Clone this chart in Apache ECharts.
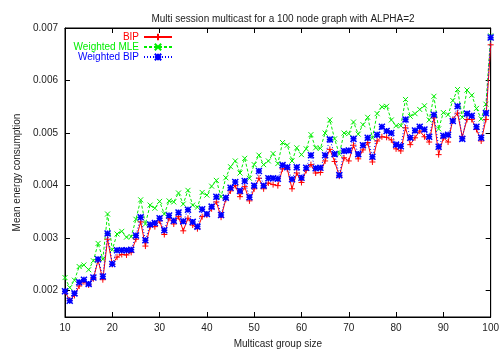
<!DOCTYPE html>
<html>
<head>
<meta charset="utf-8">
<script src="https://cdn.jsdelivr.net/npm/echarts@6/dist/echarts.min.js"></script>
<style>
  html, body { margin: 0; padding: 0; background: #fff; }
  #chart { width: 502px; height: 354px; }
</style>
</head>
<body>
<div id="chart"></div>
<script>
const groupSizes = [
  10, 11, 12, 13, 14, 15, 16, 17, 18, 19,
  20, 21, 22, 23, 24, 25, 26, 27, 28, 29,
  30, 31, 32, 33, 34, 35, 36, 37, 38, 39,
  40, 41, 42, 43, 44, 45, 46, 47, 48, 49,
  50, 51, 52, 53, 54, 55, 56, 57, 58, 59,
  60, 61, 62, 63, 64, 65, 66, 67, 68, 69,
  70, 71, 72, 73, 74, 75, 76, 77, 78, 79,
  80, 81, 82, 83, 84, 85, 86, 87, 88, 89,
  90, 91, 92, 93, 94, 95, 96, 97, 98, 99,
  100
]

const bip = [
  0.00198, 0.00182, 0.00191, 0.00209, 0.00217, 0.00211, 0.00223, 0.00258, 0.00221, 0.00298,
  0.00250, 0.00264, 0.00269, 0.00268, 0.00273, 0.00298, 0.00331, 0.00285, 0.00322, 0.00322,
  0.00333, 0.00307, 0.00338, 0.00327, 0.00341, 0.00314, 0.00338, 0.00325, 0.00318, 0.00341,
  0.00344, 0.00356, 0.00369, 0.00340, 0.00374, 0.00390, 0.00400, 0.00379, 0.00398, 0.00371,
  0.00394, 0.00414, 0.00394, 0.00405, 0.00402, 0.00400, 0.00432, 0.00432, 0.00394, 0.00424,
  0.00406, 0.00429, 0.00440, 0.00424, 0.00425, 0.00447, 0.00469, 0.00446, 0.00418, 0.00453,
  0.00447, 0.00477, 0.00451, 0.00468, 0.00482, 0.00445, 0.00485, 0.00493, 0.00492, 0.00487,
  0.00470, 0.00466, 0.00510, 0.00478, 0.00491, 0.00504, 0.00493, 0.00483, 0.00529, 0.00459,
  0.00491, 0.00483, 0.00526, 0.00538, 0.00493, 0.00526, 0.00526, 0.00507, 0.00485, 0.00526,
  0.00668
]

const weightedMle = [
  0.00225, 0.00206, 0.00220, 0.00246, 0.00249, 0.00240, 0.00257, 0.00290, 0.00260, 0.00346,
  0.00278, 0.00308, 0.00313, 0.00302, 0.00303, 0.00336, 0.00373, 0.00327, 0.00363, 0.00357,
  0.00370, 0.00346, 0.00371, 0.00369, 0.00386, 0.00365, 0.00391, 0.00363, 0.00359, 0.00387,
  0.00382, 0.00399, 0.00410, 0.00379, 0.00415, 0.00436, 0.00447, 0.00424, 0.00452, 0.00414,
  0.00440, 0.00458, 0.00440, 0.00447, 0.00461, 0.00442, 0.00482, 0.00477, 0.00447, 0.00472,
  0.00459, 0.00470, 0.00497, 0.00472, 0.00471, 0.00500, 0.00525, 0.00489, 0.00460, 0.00500,
  0.00499, 0.00521, 0.00498, 0.00516, 0.00530, 0.00491, 0.00537, 0.00550, 0.00551, 0.00525,
  0.00514, 0.00514, 0.00564, 0.00532, 0.00537, 0.00545, 0.00552, 0.00525, 0.00570, 0.00508,
  0.00539, 0.00535, 0.00562, 0.00583, 0.00530, 0.00582, 0.00572, 0.00547, 0.00527, 0.00555,
  0.00685
]

const weightedBip = [
  0.00199, 0.00181, 0.00195, 0.00216, 0.00221, 0.00213, 0.00225, 0.00260, 0.00227, 0.00309,
  0.00251, 0.00277, 0.00277, 0.00277, 0.00278, 0.00305, 0.00340, 0.00296, 0.00326, 0.00329,
  0.00338, 0.00315, 0.00343, 0.00333, 0.00349, 0.00332, 0.00354, 0.00331, 0.00322, 0.00355,
  0.00346, 0.00360, 0.00379, 0.00344, 0.00377, 0.00396, 0.00407, 0.00390, 0.00409, 0.00378,
  0.00400, 0.00428, 0.00400, 0.00414, 0.00414, 0.00413, 0.00439, 0.00435, 0.00412, 0.00435,
  0.00415, 0.00434, 0.00458, 0.00433, 0.00434, 0.00458, 0.00488, 0.00460, 0.00420, 0.00466,
  0.00467, 0.00489, 0.00460, 0.00477, 0.00491, 0.00455, 0.00497, 0.00512, 0.00504, 0.00500,
  0.00478, 0.00475, 0.00526, 0.00491, 0.00505, 0.00512, 0.00507, 0.00493, 0.00535, 0.00474,
  0.00495, 0.00497, 0.00523, 0.00551, 0.00489, 0.00537, 0.00533, 0.00512, 0.00491, 0.00538,
  0.00682
]

const yTickValues = [0.002, 0.003, 0.004, 0.005, 0.006, 0.007]

const font = "Liberation Sans, Arial, sans-serif"

const pairs = (values) => groupSizes.map((x, i) => [x, values[i]])

const chart = echarts.init(document.getElementById("chart"), null, { renderer: "canvas" })

const frameAxis = {
  axisLine: { show: true, lineStyle: { color: "#000", width: 1 } },
  axisTick: { show: true, inside: true, length: 5, lineStyle: { color: "#000" } },
  splitLine: { show: false },
}

const option = {
  animation: false,
  backgroundColor: "#fff",
  title: {
    text: "Multi session multicast for a 100 node graph with ALPHA=2",
    left: 278,
    textAlign: "center",
    top: 9,
    textStyle: { fontFamily: font, fontSize: 10, fontWeight: "normal", color: "#222" },
  },
  legend: {
    orient: "vertical",
    align: "right",
    right: 324,
    top: 27,
    itemWidth: 28,
    itemHeight: 8,
    itemGap: 0,
    textStyle: { fontFamily: font, fontSize: 10, lineHeight: 10, padding: 0 },
    data: [
      { name: "BIP", textStyle: { color: "#ff0000" } },
      { name: "Weighted MLE", textStyle: { color: "#00ee00" } },
      { name: "Weighted BIP", textStyle: { color: "#0000ff" } },
    ],
  },
  grid: {
    left: 65,
    right: 10,
    top: 28,
    bottom: 36,
    show: true,
    borderColor: "#000",
    borderWidth: 1,
  },
  xAxis: [
    {
      type: "value",
      min: 10,
      max: 100,
      interval: 10,
      name: "Multicast group size",
      nameLocation: "middle",
      nameGap: 22,
      nameTextStyle: { fontFamily: font, fontSize: 10, color: "#222" },
      axisLabel: { fontFamily: font, fontSize: 10, color: "#222", margin: 6 },
      ...frameAxis,
    },
    {
      type: "value",
      position: "top",
      min: 10,
      max: 100,
      interval: 10,
      axisLabel: { show: false },
      ...frameAxis,
    },
  ],
  yAxis: [
    {
      type: "value",
      min: 0.0015,
      max: 0.007,
      name: "Mean energy consumption",
      nameLocation: "middle",
      nameGap: 42,
      nameTextStyle: { fontFamily: font, fontSize: 10, color: "#222" },
      axisLabel: {
        fontFamily: font,
        fontSize: 10,
        color: "#222",
        margin: 7,
        customValues: yTickValues,
        formatter: (v) => v.toFixed(3),
      },
      ...frameAxis,
      axisTick: { show: true, inside: true, length: 5, lineStyle: { color: "#000" }, customValues: yTickValues },
    },
    {
      type: "value",
      position: "right",
      min: 0.0015,
      max: 0.007,
      axisLabel: { show: false },
      ...frameAxis,
      axisTick: { show: true, inside: true, length: 5, lineStyle: { color: "#000" }, customValues: yTickValues },
    },
  ],
  series: [
    {
      name: "BIP",
      type: "line",
      data: pairs(bip),
      symbol: "path://M0,5H10M5,0V10",
      symbolSize: 6,
      color: "#ff0000",
      itemStyle: { color: "#ff0000", borderColor: "#ff0000", borderWidth: 1 },
      lineStyle: { color: "#ff0000", width: 1, type: "solid" },
      z: 3,
    },
    {
      name: "Weighted MLE",
      type: "line",
      data: pairs(weightedMle),
      symbol: "path://M0,0L10,10M10,0L0,10",
      symbolSize: 5,
      color: "#00ee00",
      itemStyle: { color: "#00ee00", borderColor: "#00ee00", borderWidth: 1 },
      lineStyle: { color: "#00ee00", width: 1, type: [3, 2] },
      z: 2,
    },
    {
      name: "Weighted BIP",
      type: "line",
      data: pairs(weightedBip),
      symbol: "path://M0,0L10,10M10,0L0,10M5,0V10M0,5H10",
      symbolSize: 6,
      color: "#0000ff",
      itemStyle: { color: "#0000ff", borderColor: "#0000ff", borderWidth: 1.5 },
      lineStyle: { color: "#0000ff", width: 1, type: [1, 2] },
      z: 4,
    },
  ],
}

chart.setOption(option)

window.addEventListener("resize", () => chart.resize())
</script>
</body>
</html>
